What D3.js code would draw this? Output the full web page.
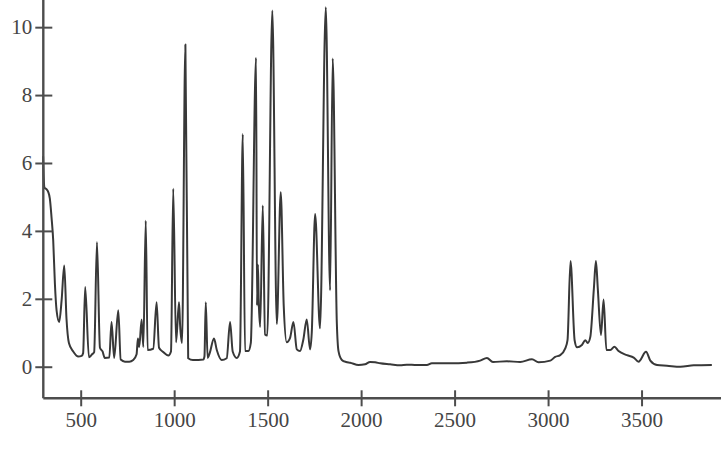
<!DOCTYPE html>
<html>
<head>
<meta charset="utf-8">
<script src="https://cdn.jsdelivr.net/npm/d3@7"></script>
<style>
  html, body { margin: 0; padding: 0; background: #fff; }
  svg { display: block; }
</style>
</head>
<body>
<svg id="chart" width="721" height="469"></svg>
<script>
// wavenumber (cm^-1)
const wavenumbers = [
  299, 302, 306, 318, 326, 335, 344, 353, 362, 371, 385, 398, 412, 424, 437, 460, 487, 505, 513, 524,
  544, 560, 572, 587, 603, 617, 629, 653, 665, 679, 701, 714, 737, 760, 781, 799, 806, 813, 826, 835,
  848, 858, 888, 906, 919, 942, 969, 983, 995, 1010, 1026, 1032, 1042, 1060, 1075, 1100, 1130, 1156, 1162, 1169,
  1179, 1190, 1213, 1228, 1254, 1281, 1299, 1313, 1335, 1352, 1367, 1379, 1397, 1410, 1438, 1443, 1448, 1452, 1460, 1474,
  1486, 1498, 1525, 1549, 1570, 1586, 1602, 1620, 1638, 1656, 1673, 1691, 1709, 1727, 1736, 1754, 1780, 1811, 1834, 1848,
  1870, 1879, 1897, 1920, 1941, 1986, 2021, 2048, 2075, 2102, 2155, 2209, 2244, 2298, 2352, 2378, 2476, 2566, 2637, 2673,
  2705, 2780, 2851, 2914, 2949, 3012, 3038, 3065, 3092, 3104, 3120, 3142, 3155, 3181, 3199, 3212, 3226, 3245, 3256, 3266,
  3283, 3297, 3312, 3333, 3355, 3377, 3422, 3458, 3484, 3524, 3547, 3583, 3636, 3708, 3779, 3876
];
// absorbance
const absorbance = [
  6.2, 5.6, 5.28, 5.22, 5.15, 4.95, 4.4, 3.72, 2.45, 1.66, 1.32, 1.96, 2.98, 1.42, 0.7, 0.45, 0.3, 0.32, 0.4, 2.35,
  0.28, 0.36, 0.43, 3.67, 0.56, 0.45, 0.26, 0.27, 1.32, 0.26, 1.66, 0.21, 0.15, 0.15, 0.2, 0.37, 0.83, 0.58, 1.39, 0.58,
  4.3, 0.49, 0.53, 1.9, 0.56, 0.43, 0.33, 0.45, 5.24, 0.72, 1.9, 1.2, 0.7, 9.49, 0.25, 0.2, 0.2, 0.21, 0.3, 1.9,
  0.26, 0.4, 0.83, 0.49, 0.2, 0.25, 1.32, 0.45, 0.26, 0.45, 6.85, 0.46, 0.46, 0.7, 9.1, 1.8, 3.0, 2.0, 1.17, 4.75,
  0.95, 0.92, 10.49, 1.26, 5.14, 1.8, 0.72, 0.85, 1.32, 0.51, 0.46, 0.8, 1.39, 0.51, 1.0, 4.5, 1.13, 10.59, 2.25, 9.08,
  1.3, 0.46, 0.2, 0.14, 0.12, 0.05, 0.07, 0.14, 0.13, 0.1, 0.07, 0.04, 0.06, 0.05, 0.05, 0.1, 0.1, 0.12, 0.18, 0.26,
  0.14, 0.16, 0.14, 0.22, 0.13, 0.18, 0.29, 0.34, 0.54, 0.78, 3.11, 0.78, 0.57, 0.64, 0.78, 0.7, 0.88, 2.3, 3.11, 2.3,
  0.93, 1.98, 0.49, 0.49, 0.59, 0.46, 0.34, 0.27, 0.15, 0.44, 0.18, 0.05, 0.03, 0.0, 0.04, 0.05
];
const xTicks = [500, 1000, 1500, 2000, 2500, 3000, 3500];
const yTicks = [0, 2, 4, 6, 8, 10];
const xDomain = [300, 3925];
const yDomain = [-0.93, 10.8];

const svg = d3.select("#chart");
const W = 721;
const left = 43.3, bottom = 398.3;

const x = d3.scaleLinear().domain(xDomain).range([left, W]);
const y = d3.scaleLinear().domain(yDomain).range([bottom, 0]);

const axisColor = "#4d4d4d";
const textColor = "#454545";
const font = "Liberation Serif";

// spectrum line
const data = wavenumbers.map((w, i) => ({ w, a: absorbance[i] }));
const line = d3.line().x(d => x(d.w)).y(d => y(d.a)).curve(d3.curveMonotoneX);
svg.append("path")
  .datum(data)
  .attr("fill", "none")
  .attr("stroke", "#383838")
  .attr("stroke-width", 2)
  .attr("stroke-linejoin", "round")
  .attr("d", line);

// y axis
const gy = svg.append("g")
  .attr("transform", `translate(${left},0)`)
  .call(d3.axisLeft(y).tickValues(yTicks).tickFormat(d3.format("d")).tickSize(8).tickSizeOuter(0))
  .attr("font-family", font)
  .attr("font-size", 21);
gy.select(".domain").remove();
gy.append("line")
  .attr("x1", 0).attr("x2", 0)
  .attr("y1", y(yDomain[1])).attr("y2", y(yDomain[0]))
  .attr("stroke", axisColor).attr("stroke-width", 2.4);
gy.selectAll(".tick line").attr("x1", -8).attr("x2", 9).attr("stroke", axisColor).attr("stroke-width", 2);
gy.selectAll(".tick text")
  .attr("x", -11)
  .attr("fill", textColor);

// x axis
const gx = svg.append("g")
  .attr("transform", `translate(0,${bottom})`)
  .call(d3.axisBottom(x).tickValues(xTicks).tickFormat(d3.format("d")).tickSize(8).tickSizeOuter(0))
  .attr("font-family", font)
  .attr("font-size", 21);
gx.select(".domain").remove();
gx.append("line")
  .attr("x1", x(xDomain[0])).attr("x2", x(xDomain[1]))
  .attr("y1", 0).attr("y2", 0)
  .attr("stroke", axisColor).attr("stroke-width", 2.4);
gx.selectAll(".tick line").attr("y1", -8).attr("y2", 8).attr("stroke", axisColor).attr("stroke-width", 2);
gx.selectAll(".tick text")
  .attr("y", 14)
  .attr("fill", textColor);
</script>
</body>
</html>
